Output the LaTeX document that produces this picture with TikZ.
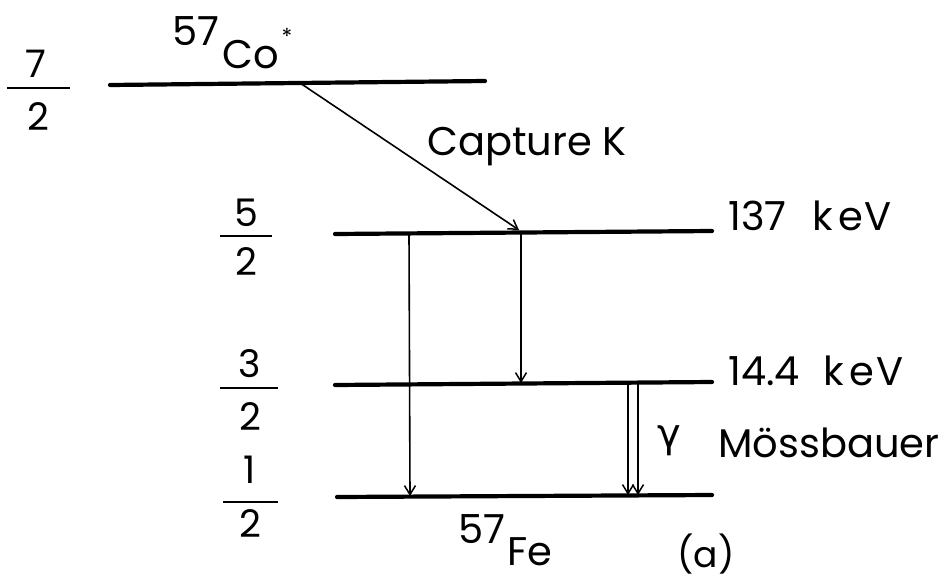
\documentclass[tikz,border=0pt]{standalone}
\usepackage{fontspec}
\setmainfont{Poppins}
\newfontfamily\greekfont{DejaVu Sans}
\usetikzlibrary{arrows.meta}
\tikzset{
  level/.style={line width=4.2pt, line cap=round},
  fracbar/.style={line width=2.8pt},
  trans/.style={line width=1.6pt, -{Straight Barb[length=9pt,width=11pt,line width=1.5pt]}},
  lbl/.style={inner sep=0pt, font=\fontsize{40}{40}\selectfont},
  dig/.style={inner sep=0pt, anchor=base, font=\fontsize{38}{38}\selectfont},
}
\begin{document}
\begin{tikzpicture}[x=1pt,y=-1pt]
\useasboundingbox (0,0) rectangle (948,579);
% levels
\coordinate (L7a) at (110,85); \coordinate (L7b) at (485,81);
\coordinate (L5a) at (335,234); \coordinate (L5b) at (712,231);
\coordinate (L3a) at (335,385); \coordinate (L3b) at (712,382);
\coordinate (L1a) at (337,497); \coordinate (L1b) at (712,495);
\draw[level] (L7a) -- (L7b);
\draw[level] (L5a) -- (L5b);
\draw[level] (L3a) -- (L3b);
\draw[level] (L1a) -- (L1b);
% transitions
\coordinate (cs) at (300,83); \coordinate (ce) at (519,230);
\draw[trans] (cs) -- (ce);
\coordinate (t1s) at (409,233); \coordinate (t1e) at (410,496);
\coordinate (t2s) at (521,232); \coordinate (t2e) at (521,383);
\coordinate (t3s) at (628,383); \coordinate (t3e) at (628,495);
\coordinate (t4s) at (638,383); \coordinate (t4e) at (638,495);
\draw[trans] (t1s) -- (t1e);
\draw[trans] (t2s) -- (t2e);
\draw[trans] (t3s) -- (t3e);
\draw[trans] (t4s) -- (t4e);
% fractions
\node[dig] (n7) at (36,77) {7};
\draw[fracbar] (7,88) -- (70,88);
\node[dig] (d7) at (38,130) {2};
\node[dig] (n5) at (246,226) {5};
\draw[fracbar] (220,236) -- (272,236);
\node[dig] (d5) at (246,275) {2};
\node[dig] (n3) at (250,377) {3};
\draw[fracbar] (220,388) -- (278,388);
\node[dig] (d3) at (250,430) {2};
\node[dig] (n1) at (250,483) {1};
\draw[fracbar] (223,502) -- (278,502);
\node[dig] (d1) at (250,537) {2};
% labels
\node[lbl, anchor=base west] (co57) at (172,45) {57};
\node[lbl, anchor=base west] (co) at (222,68) {Co};
\node[inner sep=0pt, font=\fontsize{22}{22}\selectfont] (star) at (287,36) {*};
\node[lbl, anchor=base west] (cap) at (427,155) {Capture K};
\node[lbl, anchor=base west] (e137) at (728,230) {137\hspace{26pt}k\kern5pt e\kern2pt V};
\node[lbl, anchor=base west] (e144) at (728,385) {14.4\hspace{24pt}k\kern5pt e\kern2pt V};
\node[inner sep=0pt, font=\greekfont\fontsize{40}{40}\selectfont] (gam) at (669,441) {γ};
\node[lbl, anchor=base west] (moss) at (718,457) {Mössbauer};
\node[lbl, anchor=base west] (fe57) at (458,543) {57};
\node[lbl, anchor=base west] (fe) at (507,565) {Fe};
\node[inner sep=0pt, anchor=base, font=\fontsize{36}{36}\selectfont] (a) at (706,567) {(a)};
\end{tikzpicture}
\end{document}
